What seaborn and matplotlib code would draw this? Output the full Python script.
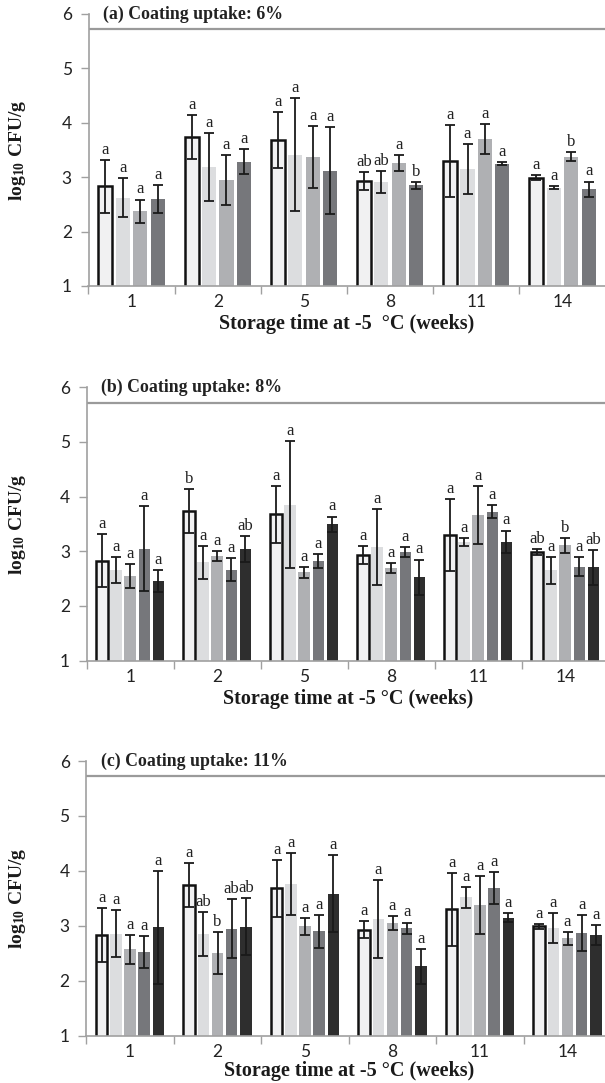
import numpy as np
import pandas as pd
import matplotlib
matplotlib.use("Agg")
import matplotlib.pyplot as plt
import seaborn as sns

# ---------------- data ----------------
weeks = ["1", "2", "5", "8", "11", "14"]

ctrl_mean = [2.83, 3.74, 3.68, 2.93, 3.30, 2.99]
ctrl_err = [0.49, 0.40, 0.52, 0.16, 0.66, 0.05]

# panel (a) coating uptake 6 %
a_s2_mean = [2.62, 3.19, 3.41, 2.91, 3.15, 2.81]
a_s2_err = [0.36, 0.62, 1.04, 0.20, 0.46, 0.02]
a_s3_mean = [2.37, 2.94, 3.37, 3.26, 3.70, 3.38]
a_s3_err = [0.22, 0.46, 0.57, 0.14, 0.28, 0.09]
a_s4_mean = [2.60, 3.28, 3.12, 2.85, 3.25, 2.78]
a_s4_err = [0.26, 0.23, 0.80, 0.06, 0.03, 0.14]
a_letters = [["a", "a", "a", "a"], ["a", "a", "a", "a"], ["a", "a", "a", "a"],
             ["ab", "ab", "a", "b"], ["a", "a", "a", "a"], ["a", "a", "b", "a"]]

# panel (b) coating uptake 8 %
b_s2_mean = [2.66, 2.80, 3.85, 3.08, 3.17, 2.65]
b_s2_err = [0.235, 0.30, 1.16, 0.70, 0.08, 0.24]
b_s3_mean = [2.54, 2.91, 2.62, 2.69, 3.67, 3.11]
b_s3_err = [0.22, 0.095, 0.10, 0.09, 0.53, 0.14]
b_s4_mean = [3.05, 2.66, 2.82, 2.98, 3.72, 2.72]
b_s4_err = [0.78, 0.21, 0.13, 0.09, 0.12, 0.17]
b_s5_mean = [2.45, 3.04, 3.49, 2.53, 3.17, 2.71]
b_s5_err = [0.20, 0.24, 0.145, 0.32, 0.21, 0.32]
b_letters = [["a"] * 5, ["b", "a", "a", "a", "ab"], ["a"] * 5, ["a"] * 5,
             ["a"] * 5, ["ab", "a", "b", "a", "ab"]]

# panel (c) coating uptake 11 %
c_s2_mean = [2.86, 2.85, 3.76, 3.12, 3.52, 2.96]
c_s2_err = [0.42, 0.40, 0.56, 0.71, 0.19, 0.28]
c_s3_mean = [2.57, 2.50, 2.99, 3.05, 3.38, 2.77]
c_s3_err = [0.26, 0.38, 0.15, 0.125, 0.53, 0.12]
c_s4_mean = [2.53, 2.95, 2.90, 2.96, 3.69, 2.87]
c_s4_err = [0.29, 0.54, 0.30, 0.10, 0.29, 0.33]
c_s5_mean = [2.97, 2.98, 3.58, 2.26, 3.15, 2.83]
c_s5_err = [1.02, 0.52, 0.70, 0.31, 0.085, 0.18]
c_letters = [["a"] * 5, ["a", "ab", "b", "ab", "ab"], ["a"] * 5, ["a"] * 5,
             ["a"] * 5, ["a"] * 5]

titles = ["(a) Coating uptake: 6%", "(b) Coating uptake: 8%", "(c) Coating uptake: 11%"]
xlabels = ["Storage time at -5  \u00b0C (weeks)", "Storage time at -5 \u00b0C (weeks)",
           "Storage time at -5 \u00b0C (weeks)"]
ylabel = r"$\mathbf{log_{10}}$ $\mathbf{CFU/g}$"

bar_colors = ["#f1f1f2", "#dcdddf", "#afb0b3", "#76777b", "#2e2e2e"]

# ---------------- style ----------------
sns.set_style("white")
plt.rcParams["font.family"] = ["Lato", "DejaVu Sans"]
plt.rcParams["mathtext.fontset"] = "custom"
plt.rcParams["mathtext.rm"] = "Liberation Serif"
plt.rcParams["mathtext.bf"] = "Liberation Serif:bold"
plt.rcParams["mathtext.it"] = "Liberation Serif:italic"

SERIF = "Liberation Serif"
AXC = "#a0a0a0"

fig = plt.figure(figsize=(6.05, 10.83), dpi=100)

panels = [
    dict(means=[ctrl_mean, a_s2_mean, a_s3_mean, a_s4_mean],
         errs=[ctrl_err, a_s2_err, a_s3_err, a_s4_err],
         letters=a_letters, rect=[88.5 / 605, 1 - 286 / 1083, 517 / 605, 272 / 1083]),
    dict(means=[ctrl_mean, b_s2_mean, b_s3_mean, b_s4_mean, b_s5_mean],
         errs=[ctrl_err, b_s2_err, b_s3_err, b_s4_err, b_s5_err],
         letters=b_letters, rect=[86.7 / 605, 1 - 660.7 / 1083, 522 / 605, 273.5 / 1083]),
    dict(means=[ctrl_mean, c_s2_mean, c_s3_mean, c_s4_mean, c_s5_mean],
         errs=[ctrl_err, c_s2_err, c_s3_err, c_s4_err, c_s5_err],
         letters=c_letters, rect=[86.3 / 605, 1 - 1035.7 / 1083, 525 / 605, 274.7 / 1083]),
]

for pi, p in enumerate(panels):
    ax = fig.add_axes(p["rect"])
    n = len(p["means"])
    rows = []
    for si in range(n):
        for wi, w in enumerate(weeks):
            rows.append({"week": w, "trt": f"T{si}", "mean": p["means"][si][wi],
                         "err": p["errs"][si][wi]})
    df = pd.DataFrame(rows)
    sns.barplot(data=df, x="week", y="mean", hue="trt", order=weeks,
                palette=bar_colors[:n], errorbar=None, width=0.81, gap=0.19,
                saturation=1, legend=False, ax=ax)
    bar_conts = list(ax.containers)
    for si, cont in enumerate(bar_conts):
        for bar in cont:
            if si == 0:
                bar.set_edgecolor("#111111")
                bar.set_linewidth(1.8)
            else:
                bar.set_linewidth(0)
        xs = [b.get_x() + b.get_width() / 2 for b in cont]
        m = np.array(p["means"][si])
        e = np.array(p["errs"][si])
        ax.errorbar(xs, m, yerr=e, fmt="none", ecolor="#1a1a1a",
                    elinewidth=1.3, capsize=3.3, capthick=1.3, zorder=5)
        for wi, x in enumerate(xs):
            ax.annotate(p["letters"][wi][si], (x, m[wi] + e[wi]),
                        xytext=(0, 1.5), textcoords="offset points",
                        ha="center", va="bottom", fontsize=12,
                        family=SERIF, color="#222222")

    ax.set_ylim(1, 6)
    ax.set_xlim(-0.5, 5.5)
    ax.set_yticks([1, 2, 3, 4, 5, 6])
    ax.set_yticklabels(["1", "2", "3", "4", "5", "6"])
    ax.set_xticks(range(6))
    ax.set_xticklabels(weeks)
    ax.set_xticks([i - 0.5 for i in range(7)], minor=True)
    ax.tick_params(axis="y", length=6, width=1, color=AXC, labelsize=12.5,
                   labelcolor="#222222", pad=6, left=True, direction="out")
    ax.tick_params(axis="x", which="major", length=0, labelsize=12.5,
                   labelcolor="#222222", pad=6)
    ax.tick_params(axis="x", which="minor", length=6, width=1, color=AXC,
                   bottom=True, direction="out")
    for s in ["top", "right"]:
        ax.spines[s].set_visible(False)
    for s in ["left", "bottom"]:
        ax.spines[s].set_color(AXC)
        ax.spines[s].set_linewidth(1.2)
    ax.axhline(5.72, color="#9a9a9a", lw=1.6, zorder=1)
    ax.text(0.028, 6.0, titles[pi], transform=ax.get_yaxis_transform(),
            ha="left", va="center", fontsize=12.8, fontweight="bold",
            family=SERIF, color="#222222")
    ax.set_xlabel(xlabels[pi], fontsize=14.5, fontweight="bold", family=SERIF,
                  color="#1a1a1a", labelpad=3 if pi < 2 else 1)
    ax.set_ylabel(ylabel, fontsize=14, color="#1a1a1a")
    ax.yaxis.set_label_coords((28 - p["rect"][0] * 605) / (p["rect"][2] * 605), 0.5)
    ax.set_facecolor("white")

fig.savefig("out.png", dpi=100, facecolor="white")
